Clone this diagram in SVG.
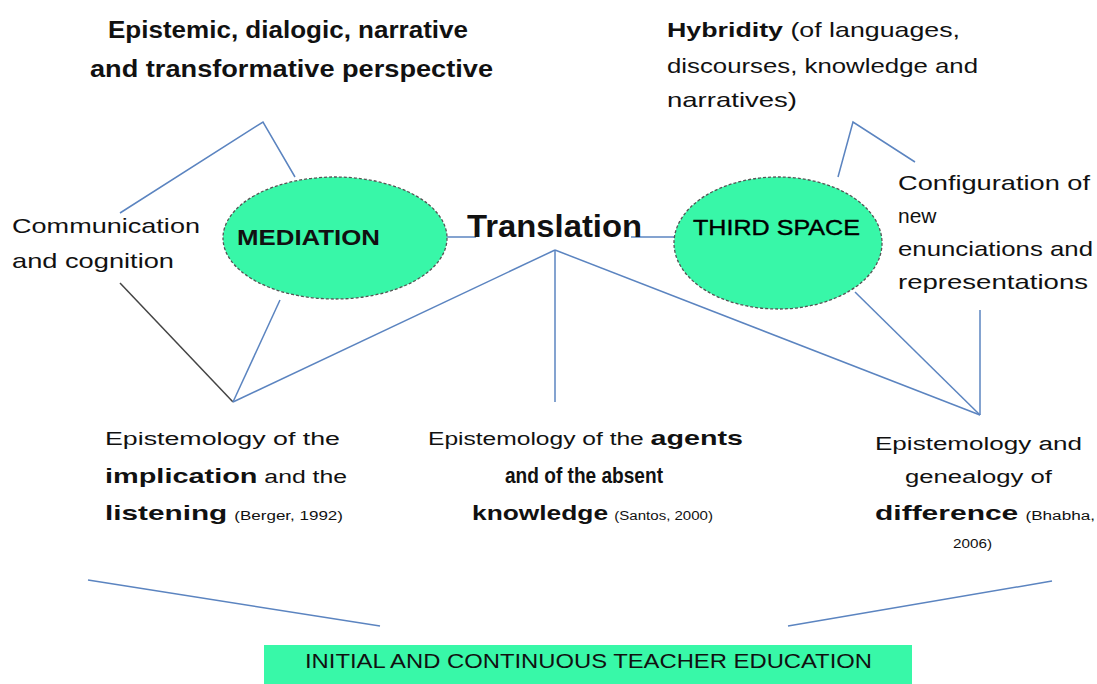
<svg xmlns="http://www.w3.org/2000/svg" width="1097" height="684" viewBox="0 0 1097 684">
<style>
text{font-family:"Liberation Sans",Arial,sans-serif;fill:#111;}
.b{font-weight:bold;}
.h{font-size:23px;font-weight:bold;}
.m{font-size:21px;}
.s{font-size:18px;}
.bb{font-size:21px;font-weight:bold;}
.c{font-size:12px;}
.ln{stroke:#5b84c0;stroke-width:1.5;fill:none;}
.ell{fill:#38f7a8;stroke:#555;stroke-width:1.3;stroke-dasharray:3 2;}
</style>
<rect width="1097" height="684" fill="#fff"/>
<g id="connectors">
<polyline class="ln" points="120,213 263,122 295,177"/>
<line class="ln" x1="425" y1="237" x2="476" y2="237"/>
<line class="ln" x1="631" y1="237" x2="674" y2="237"/>
<line x1="120" y1="283" x2="233" y2="402" stroke="#444" stroke-width="1.5"/>
<line class="ln" x1="280" y1="300" x2="233" y2="402"/>
<line class="ln" x1="233" y1="402" x2="555" y2="250"/>
<line class="ln" x1="555" y1="250" x2="555" y2="402"/>
<line class="ln" x1="555" y1="250" x2="980" y2="415"/>
<line class="ln" x1="855" y1="292" x2="980" y2="415"/>
<line class="ln" x1="980" y1="310" x2="980" y2="415"/>
<polyline class="ln" points="838,177 853,122 915,162"/>
<line class="ln" x1="88" y1="580" x2="380" y2="626"/>
<line class="ln" x1="788" y1="626" x2="1052" y2="581"/>
</g>
<g id="perspective">
<text class="h" x="108" y="38" textLength="360" lengthAdjust="spacingAndGlyphs">Epistemic, dialogic,  narrative</text>
<text class="h" x="90" y="77" textLength="403" lengthAdjust="spacingAndGlyphs">and transformative perspective</text>
</g>
<g id="hybridity">
<text class="m" x="667" y="37" textLength="293" lengthAdjust="spacingAndGlyphs"><tspan class="b">Hybridity</tspan> (of languages,</text>
<text class="m" x="667" y="73" textLength="311" lengthAdjust="spacingAndGlyphs">discourses, knowledge and</text>
<text class="m" x="667" y="107" textLength="130" lengthAdjust="spacingAndGlyphs">narratives)</text>
</g>
<g id="communication">
<text class="m" x="12" y="233" textLength="188" lengthAdjust="spacingAndGlyphs">Communication</text>
<text class="m" x="12" y="268" textLength="162" lengthAdjust="spacingAndGlyphs">and cognition</text>
</g>
<g id="mediation">
<ellipse class="ell" cx="335" cy="238" rx="112" ry="61"/>
<text x="237" y="245" font-size="22" class="b" textLength="143" lengthAdjust="spacingAndGlyphs">MEDIATION</text>
</g>
<g id="translation">
<text x="467" y="237" font-size="31" class="b" textLength="175" lengthAdjust="spacingAndGlyphs">Translation</text>
</g>
<g id="third-space">
<ellipse class="ell" cx="778" cy="243" rx="104" ry="66"/>
<text x="693" y="235" font-size="22" textLength="167" lengthAdjust="spacingAndGlyphs" style="fill:#000;stroke:#000;stroke-width:0.4">THIRD  SPACE</text>
</g>
<g id="configuration">
<text class="m" x="898" y="190" textLength="192" lengthAdjust="spacingAndGlyphs">Configuration of</text>
<text class="m" x="898" y="223">new</text>
<text class="m" x="898" y="256" textLength="195" lengthAdjust="spacingAndGlyphs">enunciations and</text>
<text class="m" x="898" y="289" textLength="190" lengthAdjust="spacingAndGlyphs">representations</text>
</g>
<g id="implication">
<text class="s" x="105" y="445" textLength="235" lengthAdjust="spacingAndGlyphs">Epistemology of the</text>
<text class="s" x="105" y="483" textLength="242" lengthAdjust="spacingAndGlyphs"><tspan class="bb">implication</tspan>  and the</text>
<text class="s" x="105" y="520" textLength="238" lengthAdjust="spacingAndGlyphs"><tspan class="bb">listening</tspan> <tspan class="c">(Berger, 1992)</tspan></text>
</g>
<g id="agents">
<text class="s" x="428" y="445" textLength="315" lengthAdjust="spacingAndGlyphs">Epistemology of the <tspan class="bb">agents</tspan></text>
<text x="505" y="483" font-weight="bold" style="font-size:22px" textLength="158" lengthAdjust="spacingAndGlyphs">and of the absent</text>
<text class="s" x="472" y="520" textLength="241" lengthAdjust="spacingAndGlyphs"><tspan class="bb">knowledge</tspan> <tspan class="c">(Santos, 2000)</tspan></text>
</g>
<g id="difference">
<text class="s" x="875" y="450" textLength="207" lengthAdjust="spacingAndGlyphs">Epistemology and</text>
<text class="s" x="905" y="483" textLength="147" lengthAdjust="spacingAndGlyphs">genealogy of</text>
<text class="s" x="875" y="520" textLength="220" lengthAdjust="spacingAndGlyphs"><tspan class="bb">difference</tspan> <tspan class="c">(Bhabha,</tspan></text>
<text class="c" x="953" y="548" textLength="39" lengthAdjust="spacingAndGlyphs">2006)</text>
</g>
<g id="teacher-education">
<rect x="264" y="645" width="648" height="39" fill="#38f8a8"/>
<text x="305" y="668" font-size="20" textLength="567" lengthAdjust="spacingAndGlyphs">INITIAL AND CONTINUOUS TEACHER EDUCATION</text>
</g>
</svg>
